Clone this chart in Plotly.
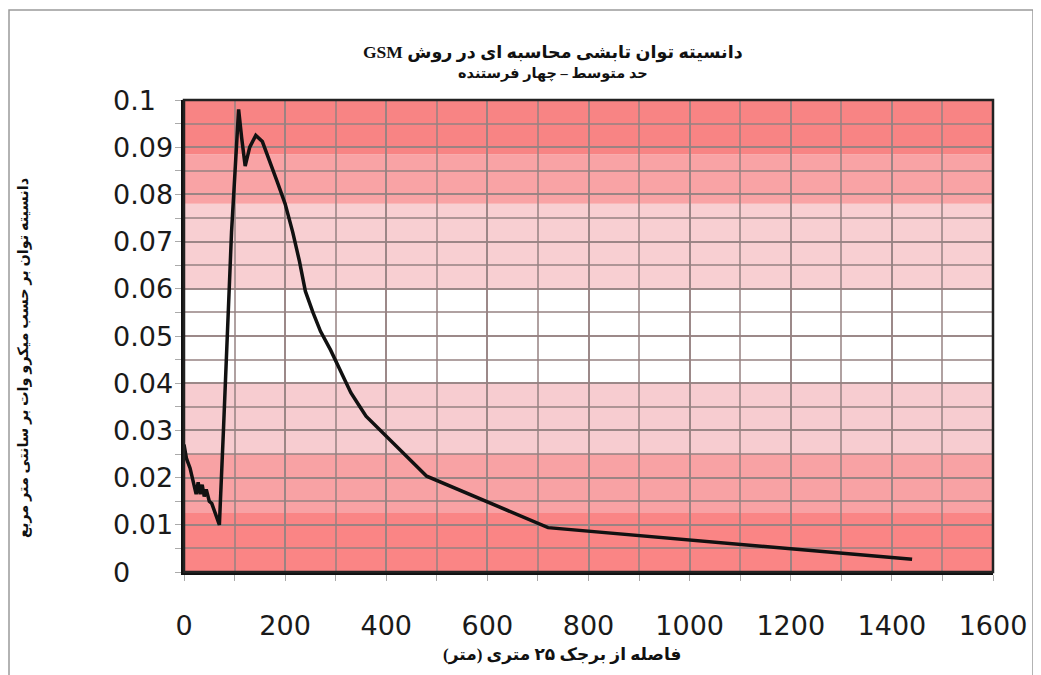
import plotly.graph_objects as go

# Distance from the 25 m tower (m)
distance_m = [0, 5, 12, 20, 24, 28, 32, 36, 40, 44, 50, 55, 60, 65, 70,
              78, 86, 94, 101, 108, 114, 121, 130, 142, 155, 170, 185, 200,
              215, 228, 240, 255, 270, 290, 310, 330, 345, 360, 480, 720, 1440]
# Power density (microwatt / cm^2)
density = [0.027, 0.024, 0.022, 0.018, 0.0165, 0.019, 0.0165, 0.0185, 0.016,
           0.0175, 0.015, 0.0145, 0.013, 0.012, 0.010,
           0.030, 0.052, 0.072, 0.085, 0.098, 0.092, 0.086, 0.090, 0.0925,
           0.0912, 0.087, 0.0825, 0.078, 0.072, 0.066, 0.0595, 0.055, 0.051,
           0.047, 0.0425, 0.038, 0.0355, 0.033, 0.0203, 0.0094, 0.0027]

y_ticks = [0, 0.01, 0.02, 0.03, 0.04, 0.05, 0.06, 0.07, 0.08, 0.09, 0.1]
y_tick_text = ["0", "0.01", "0.02", "0.03", "0.04", "0.05", "0.06", "0.07", "0.08", "0.09", "0.1"]
x_ticks = [0, 200, 400, 600, 800, 1000, 1200, 1400, 1600]

# background colour bands (value ranges)
band_lo = [0, 0.0125, 0.025, 0.04, 0.06, 0.078, 0.0885]
band_hi = [0.0125, 0.025, 0.04, 0.06, 0.078, 0.0885, 0.1]
band_col = ["#fa8585", "#f8a2a4", "#f7ccd0", "#ffffff", "#f8cfd2", "#f9a3a5", "#f88484"]

title = "دانسیته توان تابشی محاسبه ای در روش GSM"
subtitle = "حد متوسط – چهار فرستنده"
x_title = "فاصله از برجک ۲۵ متری (متر)"
y_title = "دانسیته توان بر حسب میکرو وات بر سانتی متر مربع"

RLE, PDF = "\u202b", "\u202c"

# plot-area geometry (px) used for placing paper-referenced text
PL, PT, PW, PH = 176, 92, 809, 472
FW, FH = 1033, 667


def px(xp):
    return (xp - (PL + 8)) / PW


def py(yp):
    return ((PT + 8) + PH - yp) / PH


fig = go.Figure()
fig.add_trace(go.Scatter(x=distance_m, y=density, mode="lines",
                         line=dict(color="#111111", width=3.5),
                         showlegend=False, hoverinfo="x+y"))

shapes = []
for lo, hi, c in zip(band_lo, band_hi, band_col):
    shapes.append(dict(type="rect", xref="paper", yref="y", x0=0, x1=1, y0=lo, y1=hi,
                       fillcolor=c, line=dict(width=0), layer="below"))
# plot frame
shapes.append(dict(type="rect", xref="paper", yref="paper", x0=0, x1=1, y0=0, y1=1,
                   line=dict(color="#222222", width=2.5), layer="above"))
# outer picture frame
shapes.append(dict(type="rect", xref="paper", yref="paper", x0=px(9), x1=px(1033),
                   y0=py(720), y1=py(10), line=dict(color="#9a9a9a", width=1.5), layer="above"))

serif = "Liberation Serif, DejaVu Sans, serif"
tick_font = dict(family="DejaVu Sans, Liberation Sans, sans-serif", size=27, color="#1a1a1a")
grid_c = "rgba(150,130,130,0.75)"

annotations = [
    dict(text="<b>" + RLE + title + PDF + "</b>", xref="paper", yref="paper",
         x=px(553), y=py(52), showarrow=False,
         font=dict(family=serif, size=17.5, color="#111111"), xanchor="center", yanchor="middle"),
    dict(text="<b>" + RLE + subtitle + PDF + "</b>", xref="paper", yref="paper",
         x=px(553), y=py(73), showarrow=False,
         font=dict(family=serif, size=14.5, color="#111111"), xanchor="center", yanchor="middle"),
    dict(text="<b>" + RLE + x_title + PDF + "</b>", xref="paper", yref="paper",
         x=px(562), y=py(655), showarrow=False,
         font=dict(family=serif, size=17, color="#111111"), xanchor="center", yanchor="middle"),
    dict(text="<b>" + RLE + y_title + PDF + "</b>", xref="paper", yref="paper",
         x=px(23), y=py(358), showarrow=False, textangle=-90,
         font=dict(family=serif, size=14.5, color="#111111"), xanchor="center", yanchor="middle"),
]
# left-aligned y tick labels
for v, t in zip(y_ticks, y_tick_text):
    annotations.append(dict(text=t, xref="paper", yref="y", x=px(111), y=v,
                            showarrow=False, xanchor="left", yanchor="middle",
                            font=tick_font))

fig.update_layout(
    width=FW, height=FH,
    margin=dict(l=PL, r=FW - PL - PW, t=PT, b=FH - PT - PH),
    paper_bgcolor="white", plot_bgcolor="white",
    shapes=shapes,
    annotations=annotations,
    xaxis=dict(range=[0, 1600], tickvals=x_ticks, showgrid=True,
               gridcolor=grid_c, gridwidth=1.5,
               minor=dict(dtick=100, showgrid=True, gridcolor=grid_c,
                          gridwidth=1.5, ticks="outside", ticklen=6, tickcolor="#aaaaaa"),
               ticks="outside", ticklen=6, tickcolor="#aaaaaa",
               showline=True, linecolor="#111111", linewidth=3,
               zeroline=False, ticklabelstandoff=22,
               tickfont=tick_font),
    yaxis=dict(range=[0, 0.1], tickvals=y_ticks, showticklabels=False, showgrid=True,
               gridcolor=grid_c, gridwidth=1.5,
               minor=dict(dtick=0.005, showgrid=True, gridcolor=grid_c,
                          gridwidth=1.5, ticks="outside", ticklen=6, tickcolor="#aaaaaa"),
               ticks="outside", ticklen=6, tickcolor="#aaaaaa",
               showline=True, linecolor="#111111", linewidth=3,
               zeroline=False),
)

fig.write_html("out.html")
